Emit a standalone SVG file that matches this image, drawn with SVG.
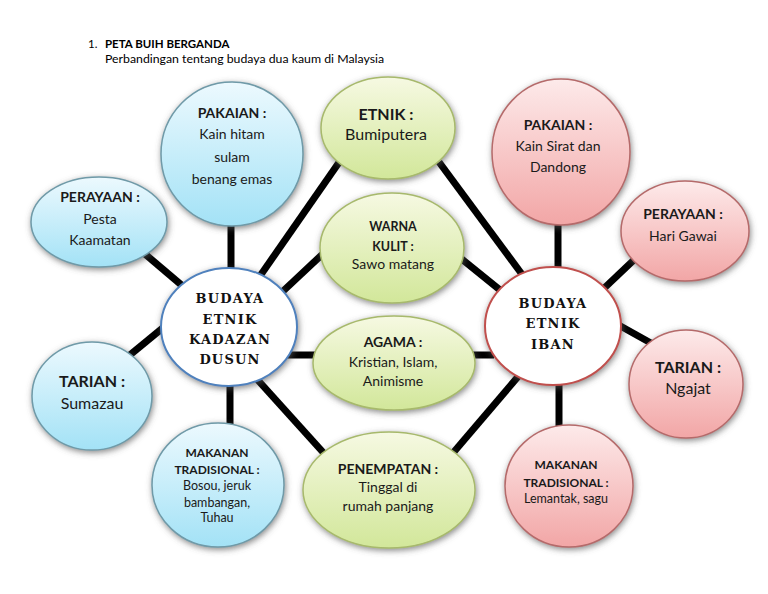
<svg xmlns="http://www.w3.org/2000/svg" width="768" height="594" viewBox="0 0 768 594">
<defs>
<linearGradient id="gb" x1="0" y1="0" x2="0" y2="1"><stop offset="0" stop-color="#ecf9fe"/><stop offset="1" stop-color="#a3e2f6"/></linearGradient>
<linearGradient id="gg" x1="0" y1="0" x2="0" y2="1"><stop offset="0" stop-color="#f6f9e2"/><stop offset="1" stop-color="#d2e79a"/></linearGradient>
<linearGradient id="gp" x1="0" y1="0" x2="0" y2="1"><stop offset="0" stop-color="#fdeaea"/><stop offset="1" stop-color="#f2a6a6"/></linearGradient>
<filter id="sh" x="-20%" y="-20%" width="140%" height="140%">
<feGaussianBlur in="SourceAlpha" stdDeviation="3"/>
<feOffset dx="1" dy="2" result="b"/>
<feFlood flood-color="#555" flood-opacity="0.7"/>
<feComposite in2="b" operator="in"/>
<feMerge><feMergeNode/><feMergeNode in="SourceGraphic"/></feMerge>
</filter>
</defs>
<style>
.c{stroke:#000;stroke-width:7;fill:none}
.b{fill:url(#gb);stroke:#6f9aa8;stroke-width:1.5;filter:url(#sh)}
.g{fill:url(#gg);stroke:#a7b96c;stroke-width:1.5;filter:url(#sh)}
.p{fill:url(#gp);stroke:#b56b6b;stroke-width:1.5;filter:url(#sh)}
.kb{fill:#fff;stroke:#4f81bd;stroke-width:2;filter:url(#sh)}
.kr{fill:#fff;stroke:#c0504d;stroke-width:2;filter:url(#sh)}
text{font-family:Lato,"Liberation Sans",sans-serif;fill:#1a1a1a;text-anchor:middle}
.t{font-size:14px}
.tb{font-size:14px;font-weight:bold}
.s{font-size:12.5px}
.sb{font-size:12px;font-weight:bold}
.sb2{font-size:12.5px;font-weight:bold}
.l{font-size:16px}
.lb{font-size:16px;font-weight:bold}
.h{font-family:"DejaVu Serif","Liberation Serif",serif;font-size:13px;font-weight:bold;letter-spacing:1.2px;fill:#111}
.ti{font-size:11.5px;text-anchor:start;fill:#000}
.ti2{font-size:12.3px;text-anchor:start;fill:#000}
</style>
<rect width="768" height="594" fill="#fff"/>
<g id="title">
<text class="ti" x="88" y="48">1.</text>
<text class="ti" x="105" y="48" font-weight="bold">PETA BUIH BERGANDA</text>
<text class="ti2" x="105" y="63">Perbandingan tentang budaya dua kaum  di Malaysia</text>
</g>
<g id="connectors">
<line class="c" x1="145" y1="254" x2="185" y2="288"/>
<line class="c" x1="231" y1="215" x2="231" y2="275"/>
<line class="c" x1="260" y1="276" x2="340" y2="161"/>
<line class="c" x1="280" y1="294" x2="328" y2="249"/>
<line class="c" x1="285" y1="355" x2="320" y2="355"/>
<line class="c" x1="256" y1="378" x2="330" y2="460"/>
<line class="c" x1="230" y1="380" x2="230" y2="432"/>
<line class="c" x1="125" y1="359" x2="170" y2="322"/>
<line class="c" x1="439" y1="162" x2="524" y2="277"/>
<line class="c" x1="458" y1="256" x2="500" y2="290"/>
<line class="c" x1="468" y1="355" x2="494" y2="355"/>
<line class="c" x1="447" y1="460" x2="522" y2="372"/>
<line class="c" x1="558" y1="215" x2="558" y2="275"/>
<line class="c" x1="637" y1="257" x2="598" y2="294"/>
<line class="c" x1="615" y1="323" x2="658" y2="347"/>
<line class="c" x1="559" y1="378" x2="559" y2="432"/>
</g>
<g id="perayaan-kd"><ellipse class="b" cx="99" cy="222" rx="68" ry="45"/>
<text class="tb" x="100" y="202">PERAYAAN :</text><text class="t" x="100" y="224">Pesta</text><text class="t" x="100" y="245">Kaamatan</text></g>
<g id="pakaian-kd"><ellipse class="b" cx="232" cy="154" rx="71" ry="72"/>
<text class="tb" x="232" y="118">PAKAIAN :</text><text class="t" x="232" y="139">Kain hitam</text><text class="t" x="232" y="162">sulam</text><text class="t" x="232" y="184">benang emas</text></g>
<g id="tarian-kd"><ellipse class="b" cx="92" cy="396" rx="60" ry="54"/>
<text class="lb" x="92" y="387">TARIAN :</text><text class="l" x="92" y="409">Sumazau</text></g>
<g id="makanan-kd"><ellipse class="b" cx="218" cy="485" rx="66" ry="62"/>
<text class="sb" x="217" y="457">MAKANAN</text><text class="sb" x="217" y="474">TRADISIONAL :</text><text class="s" x="217" y="490">Bosou,  jeruk</text><text class="s" x="217" y="507">bambangan,</text><text class="s" x="217" y="522">Tuhau</text></g>
<g id="kadazan"><ellipse class="kb" cx="229" cy="327" rx="68" ry="59"/>
<text class="h" x="230" y="303">BUDAYA</text><text class="h" x="230" y="324">ETNIK</text><text class="h" x="230" y="344">KADAZAN</text><text class="h" x="230" y="364">DUSUN</text></g>
<g id="etnik"><ellipse class="g" cx="388" cy="128" rx="67" ry="51"/>
<text class="lb" x="386" y="120">ETNIK :</text><text class="l" x="386" y="140">Bumiputera</text></g>
<g id="warna"><ellipse class="g" cx="392" cy="248" rx="72" ry="55"/>
<text class="sb2" x="393" y="231">WARNA</text><text class="sb2" x="393" y="251">KULIT :</text><text class="t" x="393" y="269">Sawo matang</text></g>
<g id="agama"><ellipse class="g" cx="394" cy="363" rx="81" ry="47"/>
<text class="tb" x="393" y="347">AGAMA :</text><text class="t" x="393" y="367">Kristian, Islam,</text><text class="t" x="393" y="386">Animisme</text></g>
<g id="penempatan"><ellipse class="g" cx="389" cy="490" rx="86" ry="58"/>
<text class="tb" x="388" y="474">PENEMPATAN :</text><text class="t" x="388" y="492">Tinggal di</text><text class="t" x="388" y="511">rumah panjang</text></g>
<g id="pakaian-iban"><ellipse class="p" cx="561" cy="152" rx="69" ry="73"/>
<text class="tb" x="558" y="130">PAKAIAN :</text><text class="t" x="558" y="151">Kain Sirat dan</text><text class="t" x="558" y="172">Dandong</text></g>
<g id="perayaan-iban"><ellipse class="p" cx="685" cy="231" rx="64" ry="50"/>
<text class="tb" x="683" y="219">PERAYAAN :</text><text class="t" x="683" y="241">Hari Gawai</text></g>
<g id="iban"><ellipse class="kr" cx="553" cy="326" rx="68" ry="59"/>
<text class="h" x="553" y="308">BUDAYA</text><text class="h" x="553" y="328">ETNIK</text><text class="h" x="553" y="349">IBAN</text></g>
<g id="tarian-iban"><ellipse class="p" cx="686" cy="384" rx="57" ry="54"/>
<text class="lb" x="688" y="373">TARIAN :</text><text class="l" x="688" y="394">Ngajat</text></g>
<g id="makanan-iban"><ellipse class="p" cx="569" cy="486" rx="64" ry="61"/>
<text class="sb" x="566" y="469">MAKANAN</text><text class="sb" x="566" y="487">TRADISIONAL :</text><text class="s" x="566" y="503">Lemantak, sagu</text></g>
</svg>
